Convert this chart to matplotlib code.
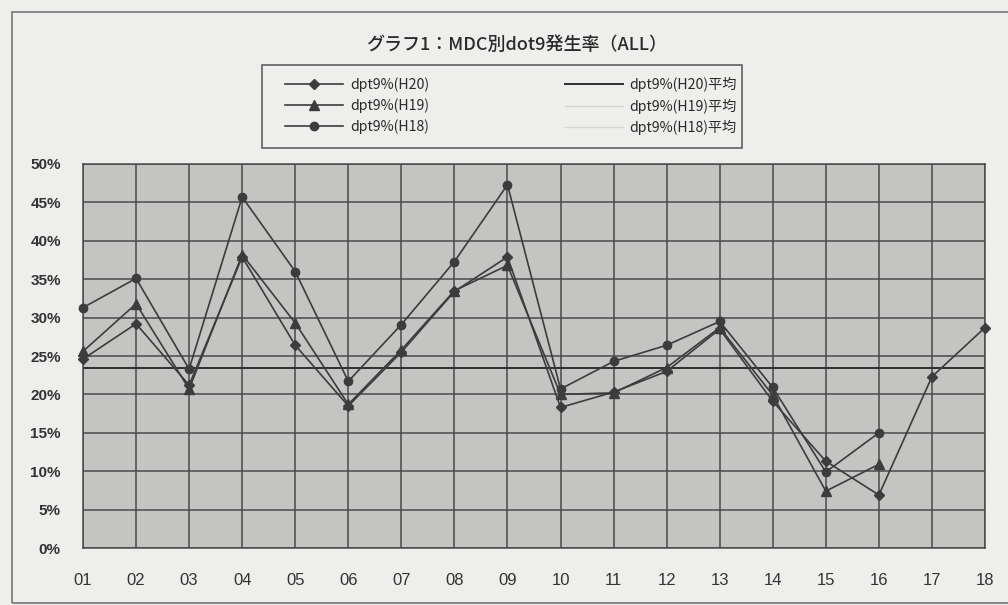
import matplotlib
matplotlib.use("Agg")
import matplotlib.pyplot as plt
from matplotlib.lines import Line2D
from matplotlib.patches import Rectangle
from matplotlib.ticker import FuncFormatter, MultipleLocator

plt.rcParams['font.family'] = ['Noto Sans CJK JP', 'DejaVu Sans']

# MDC categories
mdc = ["01", "02", "03", "04", "05", "06", "07", "08", "09",
       "10", "11", "12", "13", "14", "15", "16", "17", "18"]

# dot9 rates (%) by MDC for each fiscal year
h20 = [24.6, 29.2, 21.2, 37.9, 26.4, 18.5, 25.5, 33.4, 37.9,
       18.3, 20.3, 23.0, 28.5, 19.1, 11.3, 6.9, 22.3, 28.7]
h19 = [25.6, 31.8, 20.7, 38.2, 29.3, 18.7, 25.8, 33.5, 36.8,
       20.0, 20.2, 23.5, 28.7, 19.9, 7.4, 10.9]
h18 = [31.3, 35.1, 23.3, 45.7, 36.0, 21.7, 29.1, 37.3, 47.3,
       20.7, 24.3, 26.4, 29.5, 20.9, 9.9, 15.0]

# yearly averages (%)
h20_avg = 23.4
h19_avg = 24.4
h18_avg = 28.3

title = "グラフ1：MDC別dot9発生率（ALL）"
series_labels = ["dpt9%(H20)", "dpt9%(H19)", "dpt9%(H18)"]
avg_labels = ["dpt9%(H20)平均", "dpt9%(H19)平均", "dpt9%(H18)平均"]

W, H = 1008, 605
fig = plt.figure(figsize=(W / 100, H / 100), dpi=100)
fig.patch.set_facecolor("#eeeeec")

# outer chart frame
fig.add_artist(Rectangle((12 / W, 2 / H), (W - 10) / W, (H - 14) / H,
                         transform=fig.transFigure, fill=False,
                         edgecolor="#777777", lw=1.2))

ax = fig.add_axes([83 / W, (H - 548) / H, 902 / W, 384 / H])
bg = "#c4c4c2"
ax.set_facecolor(bg)

x = list(range(len(mdc)))
line_c = "#3c3c3c"
grid_c = "#4a4a4a"

ax.set_xlim(0, len(mdc) - 1)
ax.set_ylim(0, 50)
ax.yaxis.set_major_locator(MultipleLocator(5))
ax.set_xticks(x)
ax.set_xticklabels(mdc)
ax.yaxis.set_major_formatter(FuncFormatter(lambda v, p: f"{v:.0f}%"))
ax.grid(True, color=grid_c, lw=1.1)
ax.set_axisbelow(True)
for s in ax.spines.values():
    s.set_color(grid_c)
    s.set_linewidth(1.1)
ax.tick_params(length=0)
ax.tick_params(axis="x", pad=18, labelsize=12, labelcolor="#333333")
ax.tick_params(axis="y", pad=16, labelsize=11, labelcolor="#333333")
for t in ax.get_xticklabels():
    t.set_family(["Liberation Sans", "DejaVu Sans"])
for t in ax.get_yticklabels():
    t.set_family(["Liberation Sans", "DejaVu Sans"])
    t.set_fontweight("bold")

# average lines (H18/H19 in a pale tone that blends into the plot background,
# kept beneath the grid)
ax.axhline(h18_avg, color=bg, lw=0.8, zorder=0.3)
ax.axhline(h19_avg, color=bg, lw=0.8, zorder=0.3)
ax.axhline(h20_avg, color="#2e2e2e", lw=1.4, zorder=2)

# yearly series
ax.plot(x[:len(h18)], h18, color=line_c, lw=1.2, marker="o", ms=6,
        clip_on=False, zorder=3)
ax.plot(x[:len(h19)], h19, color=line_c, lw=1.2, marker="^", ms=6.5,
        clip_on=False, zorder=4)
ax.plot(x[:len(h20)], h20, color=line_c, lw=1.2, marker="D", ms=5,
        clip_on=False, zorder=5)

# title
fig.text(517 / W, 1 - 45 / H, title, ha="center", va="center",
         fontsize=13, fontweight="medium", color="#2a2a2a")

# legend box
fig.add_artist(Rectangle((262 / W, 1 - 148 / H), 480 / W, 83 / H,
                         transform=fig.transFigure, facecolor="#eeeeec",
                         edgecolor="#555555", lw=1.1, zorder=1))

handles = [
    Line2D([], [], color=line_c, lw=1.2, marker="D", ms=5),
    Line2D([], [], color=line_c, lw=1.2, marker="^", ms=6.5),
    Line2D([], [], color=line_c, lw=1.2, marker="o", ms=6),
    Line2D([], [], color="#2e2e2e", lw=1.4),
    Line2D([], [], color="#d6d6d4", lw=1.0),
    Line2D([], [], color="#d6d6d4", lw=1.0),
]
labels = series_labels + avg_labels
leg = fig.legend(handles, labels, ncol=2, loc="center",
                 bbox_to_anchor=(511 / W, 1 - 106 / H),
                 frameon=False, fontsize=10.2, handlelength=4.1,
                 columnspacing=9.6, labelspacing=0.46,
                 borderpad=0.0, handletextpad=0.45)
leg.set_zorder(2)
for t in leg.get_texts():
    t.set_color("#2a2a2a")

fig.savefig("out.png", dpi=100, facecolor=fig.get_facecolor())
